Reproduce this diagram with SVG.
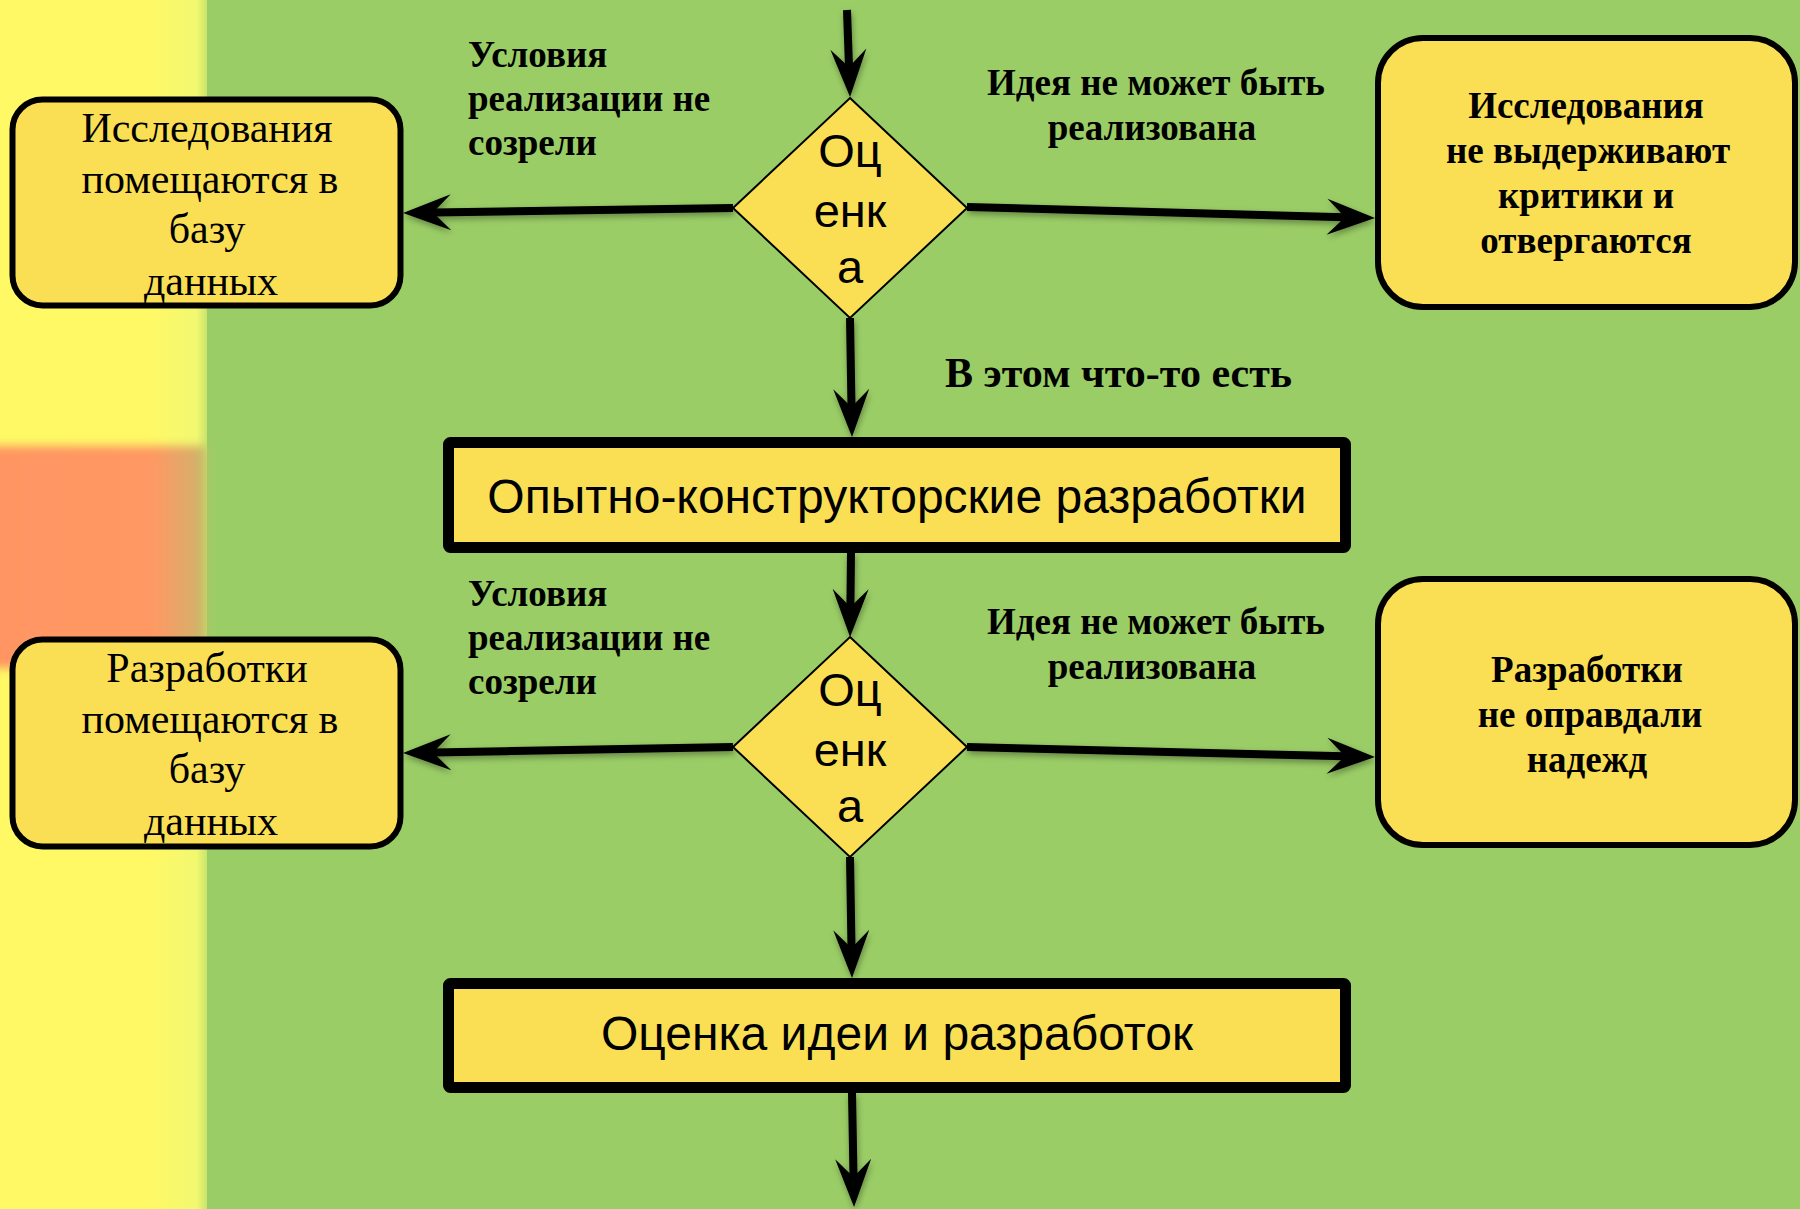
<svg xmlns="http://www.w3.org/2000/svg" width="1800" height="1209" viewBox="0 0 1800 1209">
  <style>
    .box { fill: #FADF55; stroke: #000; stroke-width: 6; }
    .bar { fill: #FADF55; stroke: #000; stroke-width: 11; stroke-linejoin: round; }
    .dia { fill: #FADF55; stroke: #000; stroke-width: 2; }
    .conn { stroke: #000; stroke-width: 8; fill: none; marker-end: url(#arr); }
    .reg { font-family: "Liberation Serif", "Times New Roman", serif; font-size: 42px; fill: #000; text-anchor: middle; }
    .bold { font-family: "Liberation Serif", "Times New Roman", serif; font-size: 37px; font-weight: bold; fill: #000; }
    .mid { text-anchor: middle; }
    .sans { font-family: "Liberation Sans", Arial, sans-serif; fill: #000; text-anchor: middle; }
  </style>
  <defs>
    <marker id="arr" markerUnits="userSpaceOnUse" viewBox="-20 -20 52 40" refX="0" refY="0" markerWidth="52" markerHeight="40" orient="auto">
      <path d="M30,0 L-18,-18 L0,0 L-18,18 Z" fill="#000"/>
    </marker>
    <linearGradient id="gy" x1="0" y1="0" x2="1" y2="0">
      <stop offset="0" stop-color="#FFF966"/>
      <stop offset="0.72" stop-color="#FFF966"/>
      <stop offset="0.95" stop-color="#F2F870"/>
      <stop offset="1" stop-color="#C9E46C"/>
    </linearGradient>
    <linearGradient id="go" x1="0" y1="0" x2="1" y2="0">
      <stop offset="0" stop-color="#FF9562"/>
      <stop offset="0.75" stop-color="#FF9864"/>
      <stop offset="0.95" stop-color="#D8AE6A"/>
      <stop offset="1" stop-color="#B4C468"/>
    </linearGradient>
    <filter id="blur" x="-0.1" y="-0.1" width="1.2" height="1.2">
      <feGaussianBlur stdDeviation="5"/>
    </filter>
    <filter id="sh" x="-0.05" y="-0.5" width="1.1" height="2">
      <feGaussianBlur in="SourceAlpha" stdDeviation="3"/>
      <feOffset dx="1" dy="3" result="b"/>
      <feComponentTransfer><feFuncA type="linear" slope="0.35"/></feComponentTransfer>
      <feMerge><feMergeNode/><feMergeNode in="SourceGraphic"/></feMerge>
    </filter>
  </defs>

  <!-- background -->
  <rect x="0" y="0" width="1800" height="1209" fill="#9ACD66"/>
  <rect x="0" y="0" width="207" height="1209" fill="url(#gy)"/>
  <rect x="-10" y="446" width="217" height="222" fill="url(#go)" filter="url(#blur)"/>

  <!-- connectors -->
  <g id="connectors" filter="url(#sh)">
    <path class="conn" d="M847,10 L849,67"/>
    <path class="conn" d="M733,208 L433,212.5"/>
    <path class="conn" d="M967,207 L1345,217.2"/>
    <path class="conn" d="M850,318 L851.5,407"/>
    <path class="conn" d="M851,553 L850.4,607"/>
    <path class="conn" d="M733,747 L433,752.5"/>
    <path class="conn" d="M967,747 L1345,756.3"/>
    <path class="conn" d="M850,857 L851.5,948"/>
    <path class="conn" d="M852,1093 L853.5,1177"/>
  </g>

  <!-- edge labels -->
  <g id="labels">
    <text class="bold" x="468"><tspan x="468" y="67">Условия</tspan><tspan x="468" y="111">реализации не</tspan><tspan x="468" y="155">созрели</tspan></text>
    <text class="bold mid"><tspan x="1156" y="95">Идея не может быть</tspan><tspan x="1152" y="140">реализована</tspan></text>
    <text class="bold" x="945" y="387" style="font-size:42px">В этом что-то есть</text>
    <text class="bold" x="468"><tspan x="468" y="606">Условия</tspan><tspan x="468" y="650">реализации не</tspan><tspan x="468" y="694">созрели</tspan></text>
    <text class="bold mid"><tspan x="1156" y="634">Идея не может быть</tspan><tspan x="1152" y="679">реализована</tspan></text>
  </g>

  <!-- nodes -->
  <g id="decision1">
    <polygon class="dia" points="850,98 967,208 850,318 733,208"/>
    <text class="sans" style="font-size:47px"><tspan x="850" y="167">Оц</tspan><tspan x="850" y="227">енк</tspan><tspan x="850" y="283">а</tspan></text>
  </g>

  <g id="box-research-db">
    <rect class="box" x="12.5" y="99.5" width="388" height="206" rx="30"/>
    <text class="reg"><tspan x="207" y="142">Исследования</tspan><tspan x="210" y="193">помещаются в</tspan><tspan x="207" y="243">базу</tspan><tspan x="211" y="295">данных</tspan></text>
  </g>

  <g id="box-research-rejected">
    <rect class="box" x="1378" y="38" width="417" height="269" rx="45"/>
    <text class="bold mid"><tspan x="1586" y="118">Исследования</tspan><tspan x="1588" y="163">не выдерживают</tspan><tspan x="1586" y="208">критики и</tspan><tspan x="1586" y="253">отвергаются</tspan></text>
  </g>

  <g id="box-rnd">
    <rect class="bar" x="448.5" y="442.5" width="897" height="105" rx="2"/>
    <text class="sans" x="897" y="513" style="font-size:48px">Опытно-конструкторские разработки</text>
  </g>

  <g id="decision2">
    <polygon class="dia" points="850,637 967,747 850,857 733,747"/>
    <text class="sans" style="font-size:47px"><tspan x="850" y="706">Оц</tspan><tspan x="850" y="766">енк</tspan><tspan x="850" y="822">а</tspan></text>
  </g>

  <g id="box-dev-db">
    <rect class="box" x="12.5" y="639.5" width="388" height="207" rx="30"/>
    <text class="reg"><tspan x="207" y="682">Разработки</tspan><tspan x="210" y="733">помещаются в</tspan><tspan x="207" y="783">базу</tspan><tspan x="211" y="835">данных</tspan></text>
  </g>

  <g id="box-dev-failed">
    <rect class="box" x="1378" y="579" width="417" height="266" rx="45"/>
    <text class="bold mid"><tspan x="1587" y="682">Разработки</tspan><tspan x="1590" y="727">не оправдали</tspan><tspan x="1587" y="772">надежд</tspan></text>
  </g>

  <g id="box-evaluation">
    <rect class="bar" x="448.5" y="983.5" width="897" height="104" rx="2"/>
    <text class="sans" x="897" y="1050" style="font-size:48px">Оценка идеи и разработок</text>
  </g>
</svg>
